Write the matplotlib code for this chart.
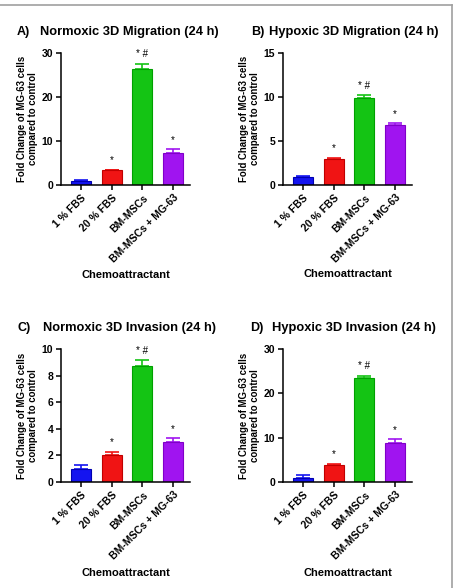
import matplotlib
matplotlib.use("Agg")
import matplotlib.pyplot as plt
from matplotlib.lines import Line2D

plt.rcParams['font.family'] = ['Liberation Sans', 'DejaVu Sans']
plt.rcParams['font.weight'] = 'bold'

# categories and colours
categories = ['1 % FBS', '20 % FBS', 'BM-MSCs', 'BM-MSCs + MG-63']
colors = ['#1414f0', '#f01414', '#14c414', '#a014f0']
edges = ['#0000b0', '#c00000', '#00a000', '#8000c8']

# panel A - normoxic migration
a_vals = [0.9, 3.3, 26.4, 7.2]
a_err = [0.2, 0.1, 1.1, 0.9]
a_marks = ['', '*', '* #', '*']

# panel B - hypoxic migration
b_vals = [0.95, 2.9, 9.9, 6.8]
b_err = [0.1, 0.2, 0.3, 0.2]
b_marks = ['', '*', '* #', '*']

# panel C - normoxic invasion
c_vals = [1.0, 2.0, 8.7, 3.0]
c_err = [0.28, 0.25, 0.45, 0.28]
c_marks = ['', '*', '* #', '*']

# panel D - hypoxic invasion
d_vals = [1.0, 3.8, 23.5, 8.8]
d_err = [0.5, 0.35, 0.5, 0.8]
d_marks = ['', '*', '* #', '*']

panels = [
    ('A)', 'Normoxic 3D Migration (24 h)', a_vals, a_err, a_marks, 30, [0, 10, 20, 30]),
    ('B)', 'Hypoxic 3D Migration (24 h)', b_vals, b_err, b_marks, 15, [0, 5, 10, 15]),
    ('C)', 'Normoxic 3D Invasion (24 h)', c_vals, c_err, c_marks, 10, [0, 2, 4, 6, 8, 10]),
    ('D)', 'Hypoxic 3D Invasion (24 h)', d_vals, d_err, d_marks, 30, [0, 10, 20, 30]),
]

W, H = 455, 588
fig = plt.figure(figsize=(W / 100, H / 100), dpi=100)

# axes boxes in pixels: left, right, top, bottom
boxes = [(61, 190, 53, 185), (283, 412, 53, 185),
         (61, 190, 349, 482), (283, 412, 349, 482)]
# tag x, title x, y
title_pos = [(17, 40, 32), (251, 269, 32), (17, 43, 328), (250, 272, 328)]
xlabel_y = [275, 274, 573, 573]

for (tag, title, vals, err, marks, ymax, yt), box, tp, xy in zip(panels, boxes, title_pos, xlabel_y):
    l, r, t, b = box
    ax = fig.add_axes([l / W, 1 - b / H, (r - l) / W, (b - t) / H])
    x = range(len(categories))
    ax.bar(x, vals, width=0.65, color=colors, edgecolor=edges, linewidth=0.8, zorder=2)
    for i in x:
        ax.errorbar(i, vals[i], yerr=[[0], [err[i]]], fmt='none', ecolor=colors[i],
                    elinewidth=1.2, capsize=5, capthick=1.2, zorder=1)
        if marks[i]:
            ax.text(i, vals[i] + err[i] + ymax * 0.035, marks[i], ha='center', va='bottom',
                    fontsize=7, fontweight='normal')
    ax.set_xlim(-0.65, 3.55)
    ax.set_ylim(0, ymax)
    ax.set_yticks(yt)
    ax.set_xticks(list(x))
    ax.set_xticklabels(categories, rotation=45, ha='right', rotation_mode='anchor',
                       fontsize=8, fontweight='bold')
    ax.tick_params(axis='both', length=3.5, width=1.1, labelsize=7.5, pad=2)
    for lab in ax.get_yticklabels():
        lab.set_fontweight('bold')
    ax.spines['top'].set_visible(False)
    ax.spines['right'].set_visible(False)
    ax.spines['left'].set_linewidth(1.1)
    ax.spines['bottom'].set_linewidth(1.1)
    ax.set_ylabel('Fold Change of MG-63 cells\ncompared to control', fontsize=6.9,
                  fontweight='bold', labelpad=3, linespacing=1.05)
    ax.patch.set_visible(False)

    fig.text(tp[0] / W, 1 - tp[2] / H, tag, fontsize=9, fontweight='bold', va='center')
    fig.text(tp[1] / W, 1 - tp[2] / H, title, fontsize=9.3, fontweight='bold', va='center')
    fig.text((l + r) / 2 / W, 1 - xy / H, 'Chemoattractant', fontsize=8,
             fontweight='bold', ha='center', va='center')

# gray frame lines at top and right
fig.add_artist(Line2D([0, 452 / W], [1 - 4.5 / H, 1 - 4.5 / H], color='#a0a0a0', linewidth=1.2))
fig.add_artist(Line2D([452 / W, 452 / W], [1 - 4.5 / H, 0], color='#a0a0a0', linewidth=1.2))

fig.savefig('out.png', dpi=100)
